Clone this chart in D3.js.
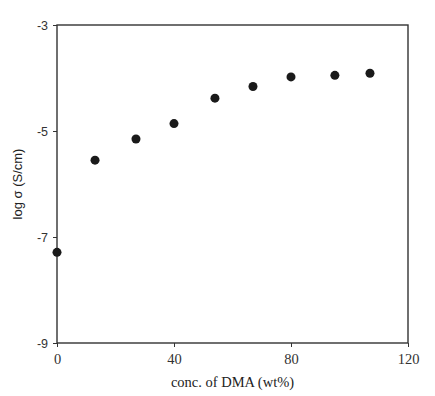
<!DOCTYPE html>
<html><head><meta charset="utf-8">
<script src="https://cdn.jsdelivr.net/npm/d3@7"></script>
<style>body{margin:0;background:#fff}</style>
</head><body>
<script>
const conc = [0, 13, 27, 40, 54, 67, 80, 95, 107];
const logSigma = [-7.29, -5.55, -5.15, -4.86, -4.38, -4.16, -3.98, -3.95, -3.91];
const xTicks = [0, 40, 80, 120];
const yTicks = [-3, -5, -7, -9];

const W = 435, H = 396;
const m = {left: 57, right: 27, top: 25, bottom: 53};
const svg = d3.select("body").append("svg").attr("width", W).attr("height", H);
const x = d3.scaleLinear().domain([0, 120]).range([m.left, W - m.right]);
const y = d3.scaleLinear().domain([-9, -3]).range([H - m.bottom, m.top]);
const axisColor = "#333";

// frame
svg.append("rect").attr("x", x(0)).attr("y", y(-3))
  .attr("width", x(120) - x(0)).attr("height", y(-9) - y(-3))
  .attr("fill", "none").attr("stroke", axisColor).attr("stroke-width", 1.4);

const gx = svg.append("g").attr("transform", `translate(0,${y(-9)})`)
  .call(d3.axisBottom(x).tickValues(xTicks).tickSize(4).tickPadding(7).tickFormat(d3.format("d")));
gx.select(".domain").remove();
gx.selectAll("line").attr("stroke", axisColor);
gx.selectAll("text").attr("font-family", "Liberation Serif, Times New Roman, serif").attr("font-size", 14.5).attr("fill", "#333");

const gy = svg.append("g").attr("transform", `translate(${x(0)},0)`)
  .call(d3.axisLeft(y).tickValues(yTicks).tickSize(4).tickPadding(5).tickFormat(d => d));
gy.select(".domain").remove();
gy.selectAll("line").attr("stroke", axisColor);
gy.selectAll("text").attr("font-family", "Liberation Sans, Arial, sans-serif").attr("font-size", 12.5).attr("fill", "#333");

svg.append("text").attr("x", (x(0) + x(120)) / 2).attr("y", 387)
  .attr("text-anchor", "middle").attr("font-family", "Liberation Serif, Times New Roman, serif")
  .attr("font-size", 14.5).attr("fill", "#222").text("conc. of DMA (wt%)");

svg.append("text").attr("transform", `translate(22,${(y(-3) + y(-9)) / 2}) rotate(-90)`)
  .attr("text-anchor", "middle").attr("font-family", "Liberation Sans, Arial, sans-serif")
  .attr("font-size", 13).attr("fill", "#222").text("log σ (S/cm)");

svg.append("g").selectAll("circle").data(conc).join("circle")
  .attr("cx", (d) => x(d)).attr("cy", (d, i) => y(logSigma[i])).attr("r", 4.5).attr("fill", "#1a1a1a");
</script>
</body></html>
